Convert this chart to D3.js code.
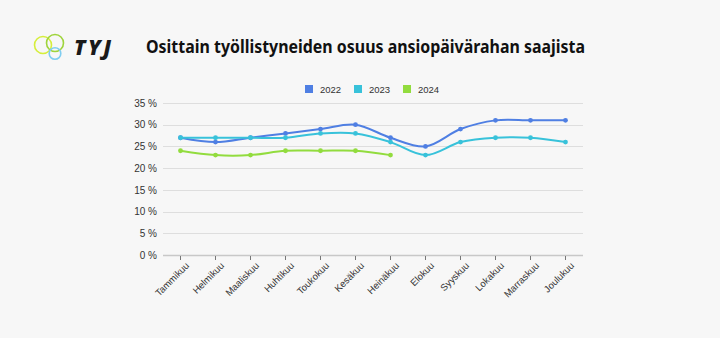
<!DOCTYPE html>
<html><head><meta charset="utf-8">
<script src="https://cdn.jsdelivr.net/npm/d3@7"></script>
<style>
html,body{margin:0;padding:0;background:#f7f7f7;}
svg{display:block;}
</style></head>
<body>
<svg id="c" width="720" height="338"></svg>
<script>
const months = ["Tammikuu","Helmikuu","Maaliskuu","Huhtikuu","Toukokuu","Kesäkuu","Heinäkuu","Elokuu","Syyskuu","Lokakuu","Marraskuu","Joulukuu"];
const s2022 = [27,26,27,28,29,30,27,25,29,31,31,31];
const s2023 = [27,27,27,27,28,28,26,23,26,27,27,26];
const s2024 = [24,23,23,24,24,24,23];
const yTicks = [0,5,10,15,20,25,30,35];
const seriesNames = ["2022","2023","2024"];
const colors = ["#4f7fe3","#38c2da","#92dc3e"];
const series = [s2022,s2023,s2024];

const svg = d3.select("#c");
svg.append("rect").attr("width",720).attr("height",338).attr("fill","#f7f7f7");

// logo
const logo = svg.append("g");
logo.append("circle").attr("cx",43).attr("cy",45).attr("r",8.5).attr("fill","none").attr("stroke","#d6ee3c").attr("stroke-width",1.6);
logo.append("circle").attr("cx",55).attr("cy",43).attr("r",8.5).attr("fill","none").attr("stroke","#9fd43c").attr("stroke-width",1.6);
logo.append("circle").attr("cx",55).attr("cy",53.5).attr("r",5.8).attr("fill","none").attr("stroke","#7fcdf0").attr("stroke-width",1.6);
logo.append("text").attr("x",74).attr("y",54.5).attr("font-family","'Open Sans', 'DejaVu Sans', sans-serif")
  .attr("font-weight","800").attr("font-style","italic").attr("font-size",21).attr("letter-spacing","2.5")
  .attr("fill","#1a1a1a").text("TYJ");

// title
svg.append("text").attr("x",146).attr("y",53).attr("font-family","'Noto Sans', 'Open Sans', sans-serif")
  .attr("font-weight","700").attr("font-size",17.5).attr("fill","#111")
  .attr("textLength",439).attr("lengthAdjust","spacingAndGlyphs")
  .text("Osittain työllistyneiden osuus ansiopäivärahan saajista");

// legend
const lg = svg.append("g").attr("font-family","'Liberation Sans', Arial, sans-serif").attr("font-size",9.5).attr("fill","#333");
const legX = [305,354,403];
seriesNames.forEach((n,i)=>{
  lg.append("rect").attr("x",legX[i]).attr("y",85).attr("width",8).attr("height",8).attr("fill",colors[i]);
  lg.append("text").attr("x",legX[i]+15).attr("y",92.5).attr("fill","#333").text(n);
});

const x = d3.scaleBand().domain(months).range([163,583]);
const y = d3.scaleLinear().domain([0,35]).range([255,103]);

// grid
const grid = svg.append("g");
yTicks.forEach(t=>{
  grid.append("line").attr("x1",163).attr("x2",583).attr("y1",Math.round(y(t))+0.5).attr("y2",Math.round(y(t))+0.5)
    .attr("stroke", t===0 ? "#c8c8c8" : "#dedede").attr("stroke-width", t===0?1.5:1);
});

// y axis
const yAxis = svg.append("g").attr("transform","translate(163,0)")
  .call(d3.axisLeft(y).tickValues(yTicks).tickSize(0).tickPadding(6).tickFormat(d=>d+" %"));
yAxis.select(".domain").remove();
yAxis.selectAll("text").attr("font-family","'Liberation Sans', Arial, sans-serif").attr("font-size",10).attr("fill","#333");

// x axis
const xAxis = svg.append("g").attr("transform","translate(0,256)")
  .call(d3.axisBottom(x).tickSize(4).tickPadding(2));
xAxis.select(".domain").remove();
xAxis.selectAll(".tick line").attr("stroke","#777");
xAxis.selectAll("text").attr("font-family","'Liberation Sans', Arial, sans-serif").attr("font-size",9.5).attr("fill","#333")
  .attr("text-anchor","end").attr("dy","0").attr("dx","0")
  .attr("transform","translate(5,6) rotate(-45)");

// lines
const line = d3.line().x((d,i)=>x(months[i])+x.bandwidth()/2).y(d=>y(d)).curve(d3.curveCatmullRom.alpha(0.5));
series.forEach((s,i)=>{
  svg.append("path").datum(s).attr("d",line).attr("fill","none").attr("stroke",colors[i]).attr("stroke-width",2);
  svg.append("g").selectAll("circle").data(s).join("circle")
    .attr("cx",(d,j)=>x(months[j])+x.bandwidth()/2).attr("cy",d=>y(d)).attr("r",2.4).attr("fill",colors[i]);
});
</script>
</body></html>
